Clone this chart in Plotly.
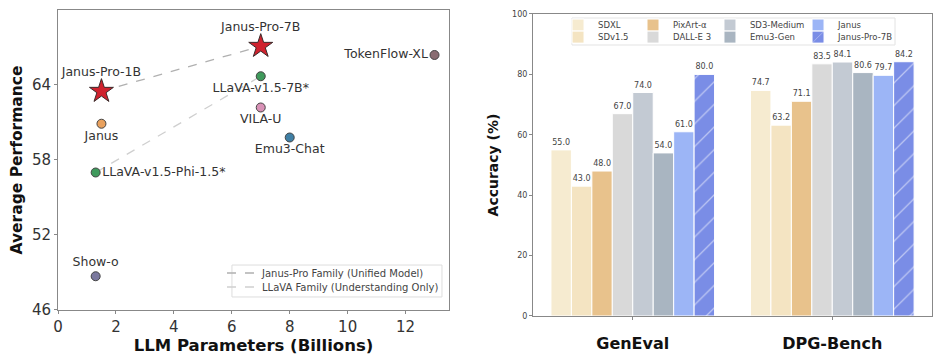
import plotly.graph_objects as go

# ---------- Left panel data ----------
models = ["Janus-Pro-7B", "Janus-Pro-1B", "TokenFlow-XL", "LLaVA-v1.5-7B*", "VILA-U",
          "Janus", "Emu3-Chat", "LLaVA-v1.5-Phi-1.5*", "Show-o"]
params = [7.0, 1.5, 13.0, 7.0, 7.0, 1.5, 8.0, 1.3, 1.3]
perf = [67.1, 63.5, 66.4, 64.7, 62.2, 60.9, 59.8, 57.0, 48.7]

# ---------- Right panel data ----------
benchmarks = ["GenEval", "DPG-Bench"]
gen_models = ["SDXL", "SDv1.5", "PixArt-α", "DALL-E 3", "SD3-Medium", "Emu3-Gen", "Janus", "Janus-Pro-7B"]
scores = {
    "SDXL": [55.0, 74.7],
    "SDv1.5": [43.0, 63.2],
    "PixArt-α": [48.0, 71.1],
    "DALL-E 3": [67.0, 83.5],
    "SD3-Medium": [74.0, 84.1],
    "Emu3-Gen": [54.0, 80.6],
    "Janus": [61.0, 79.7],
    "Janus-Pro-7B": [80.0, 84.2],
}

fig = go.Figure()

# ---- left: family lines ----
fam_janus = ["Janus-Pro-1B", "Janus-Pro-7B"]
fam_llava = ["LLaVA-v1.5-Phi-1.5*", "LLaVA-v1.5-7B*"]
def pick(names, arr):
    return [arr[models.index(n)] for n in names]

fig.add_trace(go.Scatter(x=pick(fam_janus, params), y=pick(fam_janus, perf), mode="lines",
                         line=dict(color="#b0b0b0", dash="dash", width=1.3),
                         name="Janus-Pro Family (Unified Model)", legend="legend",
                         xaxis="x", yaxis="y"))
fig.add_trace(go.Scatter(x=pick(fam_llava, params), y=pick(fam_llava, perf), mode="lines",
                         line=dict(color="#cfcfcf", dash="dash", width=1.3),
                         name="LLaVA Family (Understanding Only)", legend="legend2",
                         xaxis="x", yaxis="y"))

colors = {"Janus-Pro-7B": "#d0222e", "Janus-Pro-1B": "#d0222e", "TokenFlow-XL": "#8a6d72",
          "LLaVA-v1.5-7B*": "#3f9a5c", "VILA-U": "#d891b6", "Janus": "#e9a15e",
          "Emu3-Chat": "#3f7fa5", "LLaVA-v1.5-Phi-1.5*": "#3f9a5c", "Show-o": "#7a789e"}
positions = {"Janus-Pro-7B": "top center", "Janus-Pro-1B": "top center", "TokenFlow-XL": "middle left",
             "LLaVA-v1.5-7B*": "bottom center", "VILA-U": "bottom center", "Janus": "bottom center",
             "Emu3-Chat": "bottom center", "LLaVA-v1.5-Phi-1.5*": "middle right", "Show-o": "top center"}
for m, px, py in zip(models, params, perf):
    star = m.startswith("Janus-Pro")
    fig.add_trace(go.Scatter(
        x=[px], y=[py], mode="markers+text", text=[m], textposition=positions[m],
        textfont=dict(size=12.5, color="#333333", family="DejaVu Sans"),
        marker=dict(symbol="star" if star else "circle", size=18 if star else 9,
                    color=colors[m], line=dict(color="#3a2a2a" if star else "#444444", width=1)),
        showlegend=False, xaxis="x", yaxis="y", cliponaxis=False))

# ---- right: bars ----
bar_colors = ["#f6ebd0", "#f4e4c2", "#e8c28c", "#d9d9d9", "#c3cad3", "#a9b5c1", "#9cb5f6", "#7a8de6"]
# legend grid: 4 columns x 2 rows (column-major, like the reference)
col_x = [0.5796, 0.6586, 0.7397, 0.8325]
row_y = [0.952, 0.918]
leg_common = dict(orientation="h", bgcolor="rgba(0,0,0,0)", borderwidth=0, itemwidth=30)
legend_layout = {}
for i, (m, c) in enumerate(zip(gen_models, bar_colors)):
    vals = scores[m]
    marker = dict(color=c, line=dict(color="white", width=1))
    if m == "Janus-Pro-7B":
        marker["pattern"] = dict(shape="/", fgcolor="white", bgcolor=c, size=16, solidity=0.08)
    lname = f"legend{i + 3}"
    legend_layout[lname] = dict(x=col_x[i // 2], xanchor="left", y=row_y[i % 2], yanchor="middle",
                                font=dict(size=8.5, color="#444444"), **leg_common)
    fig.add_trace(go.Bar(
        x=benchmarks, y=vals, name=m, marker=marker,
        text=[f"{v:.1f}" for v in vals], textposition="outside",
        textfont=dict(size=8, color="#444444"), cliponaxis=False,
        legend=lname, xaxis="x2", yaxis="y2"))

axis_line = dict(showline=True, linecolor="#888888", linewidth=1, mirror=True, showgrid=False,
                 zeroline=False, ticks="outside", ticklen=3, tickcolor="#888888", automargin=False)

fig.update_layout(
    width=949, height=355, plot_bgcolor="white", paper_bgcolor="white",
    margin=dict(l=0, r=0, t=0, b=0, autoexpand=False),
    font=dict(family="DejaVu Sans", color="#222222"),
    barmode="group", bargap=0.18, bargroupgap=0.0,
    xaxis=dict(domain=[0.0527, 0.4647], range=[0, 13.5], tickvals=[0, 2, 4, 6, 8, 10, 12],
               tickfont=dict(size=15, color="#333333"),
               title=dict(text="<b>LLM Parameters (Billions)</b>", font=dict(size=16.5, color="#111111"), standoff=2),
               anchor="y", **axis_line),
    yaxis=dict(domain=[0.1493, 0.9944], range=[46, 70], tickvals=[46, 52, 58, 64],
               tickfont=dict(size=15, color="#333333"),
               title=dict(text="<b>Average Performance</b>", font=dict(size=15.5, color="#111111"), standoff=5),
               anchor="x", **axis_line),
    xaxis2=dict(domain=[0.5532, 0.9737], range=[-0.5, 1.5],
                tickfont=dict(size=16, color="#111111", family="DejaVu Sans"),
                tickvals=benchmarks, ticktext=[f"<b>{b}</b>" for b in benchmarks],
                ticklabelstandoff=10,
                anchor="y2", **axis_line),
    yaxis2=dict(domain=[0.1324, 0.9831], range=[0, 100], tickvals=[0, 20, 40, 60, 80, 100],
                tickfont=dict(size=8, color="#444444"),
                title=dict(text="<b>Accuracy (%)</b>", font=dict(size=14, color="#111111"), standoff=10),
                anchor="x2", **axis_line),
    legend=dict(x=0.2255, xanchor="left", y=0.2535, yanchor="middle",
                font=dict(size=10, color="#444444"), **leg_common),
    legend2=dict(x=0.2255, xanchor="left", y=0.2141, yanchor="middle",
                 font=dict(size=10, color="#444444"), **leg_common),
    shapes=[
        dict(type="rect", xref="paper", yref="paper", x0=0.236, x1=0.4573, y0=0.186, y1=0.276,
             line=dict(color="#dddddd", width=1), fillcolor="rgba(0,0,0,0)", layer="above"),
        dict(type="rect", xref="paper", yref="paper", x0=0.5943, x1=0.9347, y0=0.8958, y1=0.9718,
             line=dict(color="#e3e3e3", width=1), fillcolor="rgba(0,0,0,0)", layer="above"),
    ],
)
fig.update_layout(**legend_layout)

fig.write_html("out.html")
